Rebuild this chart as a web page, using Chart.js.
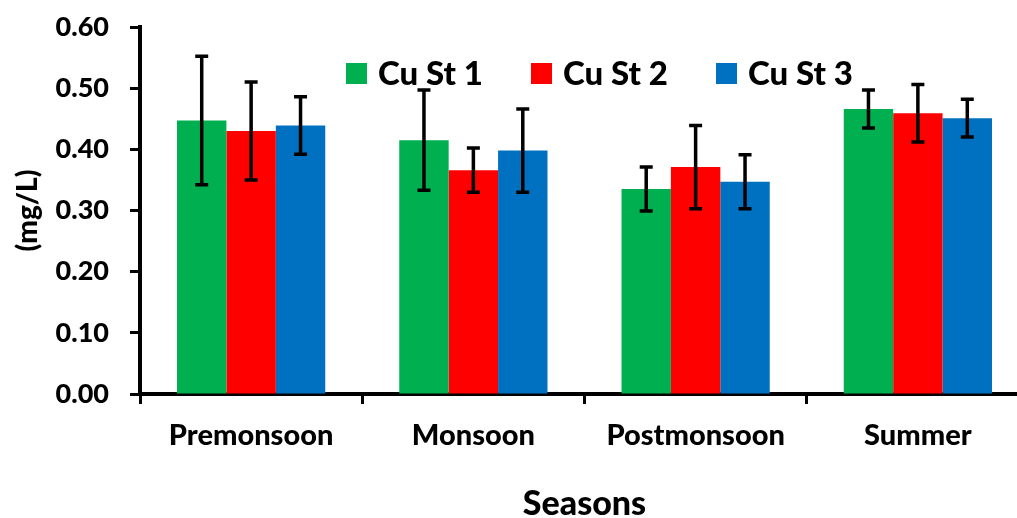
<!DOCTYPE html>
<html>
<head>
<meta charset="utf-8">
<script src="https://cdn.jsdelivr.net/npm/chart.js@4/dist/chart.umd.min.js"></script>
<style>
  html, body { margin: 0; padding: 0; background: #fff; overflow: hidden; }
  #wrap { width: 1030px; height: 518px; }
</style>
</head>
<body>
<div id="wrap"><canvas id="c" width="1030" height="518"></canvas></div>
<script>
const categories = ["Premonsoon", "Monsoon", "Postmonsoon", "Summer"];
const seriesNames = ["Cu St 1", "Cu St 2", "Cu St 3"];
const st1 = [0.447, 0.415, 0.335, 0.466];
const st2 = [0.430, 0.366, 0.371, 0.459];
const st3 = [0.439, 0.398, 0.347, 0.451];
const err1 = [0.105, 0.082, 0.036, 0.031];
const err2 = [0.080, 0.036, 0.068, 0.047];
const err3 = [0.047, 0.068, 0.044, 0.031];
const yTicks = [0.00, 0.10, 0.20, 0.30, 0.40, 0.50, 0.60];
const colors = ["#00B050", "#FF0000", "#0070C0"];

const FONT = "Lato, 'Open Sans', sans-serif";
const W = "900";

const errorBars = {
  id: "errorBars",
  afterDatasetsDraw(chart) {
    const ctx = chart.ctx;
    const y = chart.scales.y;
    ctx.save();
    ctx.strokeStyle = "#000";
    ctx.lineWidth = 3.5;
    ctx.lineCap = "butt";
    chart.data.datasets.forEach((ds, di) => {
      const meta = chart.getDatasetMeta(di);
      meta.data.forEach((bar, i) => {
        const v = ds.data[i], e = ds.errors[i];
        const x = bar.x;
        const yt = y.getPixelForValue(v + e);
        const yb = y.getPixelForValue(v - e);
        const hw = 6.5;
        ctx.beginPath();
        ctx.moveTo(x, yt); ctx.lineTo(x, yb);
        ctx.moveTo(x - hw, yt); ctx.lineTo(x + hw, yt);
        ctx.moveTo(x - hw, yb); ctx.lineTo(x + hw, yb);
        ctx.stroke();
      });
    });
    ctx.restore();
  }
};

const customLegend = {
  id: "customLegend",
  afterDraw(chart) {
    const ctx = chart.ctx;
    const startX = 346, step = 185, boxY = 63, box = 21;
    ctx.save();
    ctx.font = W + " 33px " + FONT;
    ctx.textBaseline = "middle";
    ctx.textAlign = "left";
    chart.data.datasets.forEach((ds, i) => {
      const bx = startX + i * step;
      ctx.fillStyle = ds.backgroundColor;
      ctx.fillRect(bx, boxY, box, box);
      ctx.fillStyle = "#000";
      ctx.fillText(ds.label, bx + 32, boxY + box / 2 + 1);
    });
    ctx.restore();
  }
};

new Chart(document.getElementById("c"), {
  type: "bar",
  data: {
    labels: categories,
    datasets: [
      { label: seriesNames[0], data: st1, errors: err1, backgroundColor: colors[0] },
      { label: seriesNames[1], data: st2, errors: err2, backgroundColor: colors[1] },
      { label: seriesNames[2], data: st3, errors: err3, backgroundColor: colors[2] }
    ]
  },
  options: {
    responsive: false,
    animation: false,
    devicePixelRatio: 1,
    layout: { padding: { left: 0, right: 1, top: 27, bottom: 0 } },
    datasets: { bar: { categoryPercentage: 0.667, barPercentage: 1.0, borderWidth: 0 } },
    plugins: { legend: { display: false }, tooltip: { enabled: false } },
    scales: {
      x: {
        grid: { drawOnChartArea: false, offset: true, tickLength: 10, tickWidth: 3, tickColor: "#000" },
        border: { display: true, color: "#000", width: 4 },
        ticks: { color: "#000", padding: 14, font: { family: FONT, size: 29, weight: W }, maxRotation: 0 },
        title: { display: true, text: "Seasons", color: "#000", padding: 0,
                 font: { family: FONT, size: 34, weight: W, lineHeight: 0.8 } },
        afterFit(scale) { scale.height = 124; scale.paddingLeft = 0; scale.paddingRight = 0; }
      },
      y: {
        min: 0, max: 0.6,
        afterBuildTicks(scale) { scale.ticks = yTicks.map(v => ({ value: v })); },
        grid: { drawOnChartArea: false, tickLength: 10, tickWidth: 3, tickColor: "#000" },
        border: { display: true, color: "#000", width: 4 },
        ticks: { color: "#000", padding: 21, font: { family: FONT, size: 27, weight: W },
                 callback: (v) => Number(v).toFixed(2) },
        title: { display: true, text: "(mg/L)", color: "#000", padding: { top: 11, bottom: 0 },
                 font: { family: FONT, size: 28, weight: W, lineHeight: 1.2 } },
        afterFit(scale) { scale.width = 140; scale.paddingTop = 0; scale.paddingBottom = 0; }
      }
    }
  },
  plugins: [errorBars, customLegend]
});
</script>
</body>
</html>
